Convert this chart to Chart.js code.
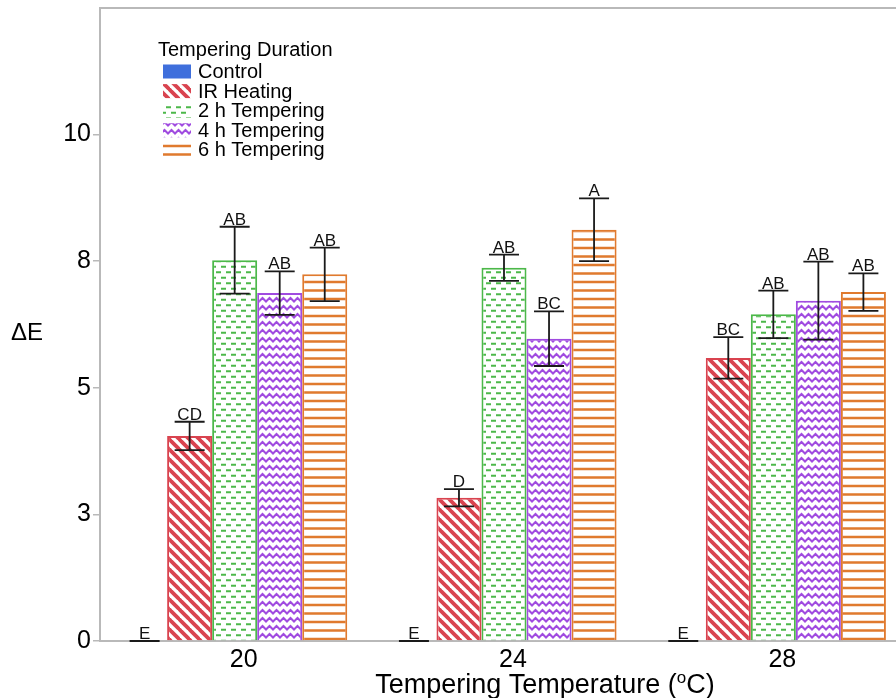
<!DOCTYPE html>
<html>
<head>
<meta charset="utf-8">
<script src="https://cdn.jsdelivr.net/npm/chart.js@4.4.0/dist/chart.umd.min.js"></script>
<style>
  html, body { margin: 0; padding: 0; background: #fff; overflow: hidden; }
  #wrap { position: relative; width: 912px; height: 698px; }
</style>
</head>
<body>
<div id="wrap"><canvas id="chart"></canvas></div>
<script>
// --- data ---
const categories = ['20', '24', '28'];
const seriesNames = ['Control', 'IR Heating', '2 h Tempering', '4 h Tempering', '6 h Tempering'];

const controlVals = [0, 0, 0];
const irVals = [4.05, 2.83, 5.59];
const h2Vals = [7.52, 7.37, 6.45];
const h4Vals = [6.87, 5.97, 6.72];
const h6Vals = [7.24, 8.12, 6.89];

const controlErr = [0, 0, 0];
const irErr = [0.28, 0.17, 0.41];
const h2Err = [0.66, 0.26, 0.47];
const h4Err = [0.43, 0.54, 0.77];
const h6Err = [0.53, 0.62, 0.37];

const controlLetters = ['E', 'E', 'E'];
const irLetters = ['CD', 'D', 'BC'];
const h2Letters = ['AB', 'AB', 'AB'];
const h4Letters = ['AB', 'BC', 'AB'];
const h6Letters = ['AB', 'A', 'AB'];

const yTickValues = [0, 2.5, 5, 7.5, 10];
const yTickLabels = ['0', '3', '5', '8', '10'];

const FONT = '"Liberation Sans", Arial, sans-serif';
const AXIS_GREY = '#b9b9b9';

// --- fill patterns ---
function makePattern(kind, color) {
    const c = document.createElement('canvas');
    let w = 10, h = 10;
    if (kind === 'stripes') { w = 10; h = 10; }
    if (kind === 'dashes') { w = 10; h = 11; }
    if (kind === 'zigzag') { w = 7; h = 8; }
    if (kind === 'lines') { w = 4; h = 17; }
    c.width = w; c.height = h;
    const g = c.getContext('2d');
    g.fillStyle = '#fff';
    g.fillRect(0, 0, w, h);
    g.strokeStyle = color;
    g.lineCap = 'butt';

    if (kind === 'stripes') {
        g.lineWidth = 3.8;
        for (const k of [-w, 0, w]) {
            g.beginPath();
            g.moveTo(k - 1, -1);
            g.lineTo(k + w + 1, h + 1);
            g.stroke();
        }
    } else if (kind === 'dashes') {
        g.lineWidth = 2;
        g.beginPath();
        g.moveTo(1, 2.75); g.lineTo(6, 2.75);
        g.moveTo(6, 8.25); g.lineTo(11, 8.25);
        g.moveTo(-4, 8.25); g.lineTo(1, 8.25);
        g.stroke();
    } else if (kind === 'zigzag') {
        g.lineWidth = 2;
        g.lineJoin = 'miter';
        g.beginPath();
        g.moveTo(-3.5, 2); g.lineTo(0, 5.5); g.lineTo(3.5, 2); g.lineTo(7, 5.5); g.lineTo(10.5, 2);
        g.stroke();
    } else if (kind === 'lines') {
        g.lineWidth = 2.5;
        g.beginPath();
        g.moveTo(0, 1.5); g.lineTo(w, 1.5);
        g.moveTo(0, 10); g.lineTo(w, 10);
        g.stroke();
    }
    return g.createPattern(c, 'repeat');
}

const colors = ['#3f6fdc', '#d9434f', '#4cb84a', '#a04be0', '#e07a2e'];
const fills = [
    colors[0],
    makePattern('stripes', colors[1]),
    makePattern('dashes', colors[2]),
    makePattern('zigzag', colors[3]),
    makePattern('lines', colors[4])
];

const values = [controlVals, irVals, h2Vals, h4Vals, h6Vals];
const errors = [controlErr, irErr, h2Err, h4Err, h6Err];
const letters = [controlLetters, irLetters, h2Letters, h4Letters, h6Letters];

// error bars, letters, frame, titles, legend
const extras = {
    id: 'extras',
    afterDatasetsDraw(chart) {
        const ctx = chart.ctx;
        const y = chart.scales.y;
        ctx.save();
        chart.data.datasets.forEach((ds, di) => {
            const meta = chart.getDatasetMeta(di);
            meta.data.forEach((bar, i) => {
                const v = ds.data[i];
                const e = errors[di][i];
                const yTop = y.getPixelForValue(v + e);
                const yBot = y.getPixelForValue(v - e);
                const x = bar.x;
                ctx.strokeStyle = '#1a1a1a';
                ctx.lineWidth = 1.8;
                ctx.beginPath();
                ctx.moveTo(x, yTop); ctx.lineTo(x, yBot);
                ctx.moveTo(x - 15, yTop); ctx.lineTo(x + 15, yTop);
                ctx.moveTo(x - 15, yBot); ctx.lineTo(x + 15, yBot);
                ctx.stroke();

                ctx.fillStyle = '#111';
                ctx.font = '17px ' + FONT;
                ctx.textAlign = 'center';
                ctx.textBaseline = 'alphabetic';
                ctx.fillText(letters[di][i], x, yTop - 2);
            });
        });
        ctx.restore();
    },
    afterDraw(chart) {
        const ctx = chart.ctx;
        const a = chart.chartArea;
        ctx.save();

        // top frame line
        ctx.strokeStyle = AXIS_GREY;
        ctx.lineWidth = 2;
        ctx.beginPath();
        ctx.moveTo(a.left, a.top);
        ctx.lineTo(a.right, a.top);
        ctx.stroke();

        // y title (horizontal)
        ctx.fillStyle = '#000';
        ctx.font = '24px ' + FONT;
        ctx.textAlign = 'center';
        ctx.textBaseline = 'middle';
        ctx.fillText('ΔE', 27, 333);

        // x title with superscript o
        ctx.font = '27px ' + FONT;
        ctx.textBaseline = 'alphabetic';
        ctx.textAlign = 'left';
        const p1 = 'Tempering Temperature (';
        const sup = 'o';
        const p2 = 'C)';
        const w1 = ctx.measureText(p1).width;
        ctx.font = '17px ' + FONT;
        const ws = ctx.measureText(sup).width;
        ctx.font = '27px ' + FONT;
        const w2 = ctx.measureText(p2).width;
        let tx = 545 - (w1 + ws + w2) / 2;
        const base = 693;
        ctx.fillText(p1, tx, base);
        tx += w1;
        ctx.font = '17px ' + FONT;
        ctx.fillText(sup, tx, base - 10);
        tx += ws;
        ctx.font = '27px ' + FONT;
        ctx.fillText(p2, tx, base);

        // legend
        ctx.font = '20px ' + FONT;
        ctx.textBaseline = 'middle';
        ctx.fillStyle = '#000';
        ctx.fillText('Tempering Duration', 158, 50);
        chart.data.datasets.forEach((ds, di) => {
            const cy = 71.5 + di * 19.6;
            ctx.fillStyle = ds.backgroundColor;
            ctx.fillRect(163, cy - 7, 28, 14);
            ctx.fillStyle = '#000';
            ctx.fillText(ds.label, 198, cy + 1);
        });
        ctx.restore();
    }
};

new Chart(document.getElementById('chart'), {
    type: 'bar',
    data: {
        labels: categories,
        datasets: seriesNames.map((name, i) => ({
            label: name,
            data: values[i],
            backgroundColor: fills[i],
            borderColor: colors[i],
            borderWidth: i === 0 ? 0 : 2,
            categoryPercentage: 0.836,
            barPercentage: 1
        }))
    },
    options: {
        responsive: true,
        maintainAspectRatio: false,
        animation: false,
        layout: { padding: { top: 8, right: 4, left: 0, bottom: 0 } },
        plugins: {
            legend: { display: false },
            tooltip: { enabled: false }
        },
        scales: {
            x: {
                grid: { display: false, drawTicks: false },
                border: { display: true, color: AXIS_GREY, width: 2 },
                ticks: {
                    color: '#000',
                    font: { family: FONT, size: 25 },
                    padding: 4,
                    labelOffset: 9
                },
                afterFit(scale) {
                    scale.height = 57;
                    scale.paddingLeft = 0;
                    scale.paddingRight = 0;
                }
            },
            y: {
                min: 0,
                max: 12.5,
                grid: { display: true, drawOnChartArea: false, drawTicks: true, tickLength: 7, color: AXIS_GREY, lineWidth: 1.5 },
                border: { display: true, color: AXIS_GREY, width: 2 },
                afterBuildTicks(scale) {
                    scale.ticks = yTickValues.map(v => ({ value: v }));
                },
                ticks: {
                    color: '#000',
                    font: { family: FONT, size: 25 },
                    padding: 2,
                    callback(value) {
                        const k = yTickValues.indexOf(value);
                        return k >= 0 ? yTickLabels[k] : '';
                    }
                },
                afterFit(scale) {
                    scale.width = 100;
                    scale.paddingTop = 0;
                    scale.paddingBottom = 0;
                }
            }
        }
    },
    plugins: [extras]
});
</script>
</body>
</html>
